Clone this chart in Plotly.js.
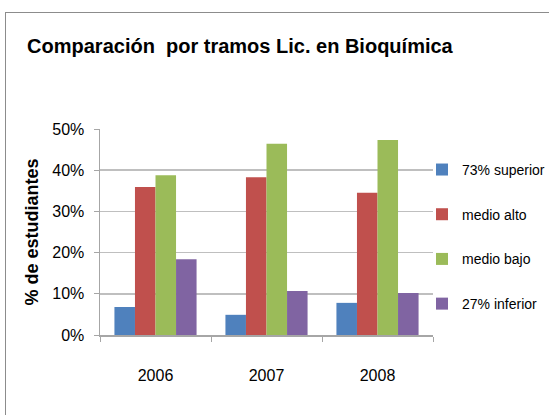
<!DOCTYPE html>
<html>
<head>
<meta charset="utf-8">
<script src="https://cdn.plot.ly/plotly-3.0.1.min.js"></script>
<style>
  html, body { margin: 0; padding: 0; background: #fff; }
  #chart { width: 549px; height: 415px; }
  #frame { position: absolute; left: 5px; top: 12px; width: 600px; height: 450px;
           border: 1px solid #8c8c8c; pointer-events: none; }
</style>
</head>
<body>
<div id="chart"></div>
<div id="frame"></div>
<script>
const years = ['2006', '2007', '2008'];
const superior = [6.8, 4.9, 7.8];
const medioAlto = [35.9, 38.3, 34.5];
const medioBajo = [38.8, 46.4, 47.3];
const inferior = [18.4, 10.7, 10.2];
const seriesNames = ['73% superior', 'medio alto', 'medio bajo', '27% inferior'];
const seriesColors = ['#4F81BD', '#C0504D', '#9BBB59', '#8064A2'];
const yTicks = [0, 10, 20, 30, 40, 50];
const yTickLabels = ['0%', '10%', '20%', '30%', '40%', '50%'];

const font = "'Liberation Sans', Arial, sans-serif";
const allSeries = [superior, medioAlto, medioBajo, inferior];
const traces = allSeries.map((vals, i) => ({
  type: 'bar',
  x: years,
  y: vals,
  name: seriesNames[i],
  legendgroup: 'g' + i,
  marker: { color: seriesColors[i] },
  hoverinfo: 'skip'
}));

const layout = {
  width: 549,
  height: 415,
  margin: { l: 100, r: 116, t: 129, b: 80, autoexpand: false },
  paper_bgcolor: '#ffffff',
  plot_bgcolor: '#ffffff',
  font: { family: font, color: '#000', size: 16 },
  title: {
    text: '<b>Comparación  por tramos Lic. en Bioquímica</b>',
    font: { family: font, size: 20, color: '#000' },
    x: 0.437, xanchor: 'center',
    y: 0.889, yanchor: 'middle'
  },
  barmode: 'group',
  bargap: 0.26,
  bargroupgap: 0,
  xaxis: {
    type: 'category',
    tickson: 'boundaries',
    ticks: 'outside',
    ticklen: 5,
    tickcolor: '#a6a6a6',
    showline: true,
    linecolor: '#a6a6a6',
    linewidth: 1.5,
    showgrid: false,
    ticklabelstandoff: 25,
    tickfont: { family: font, size: 16, color: '#000' },
    fixedrange: true
  },
  yaxis: {
    range: [0, 50],
    tickmode: 'array',
    tickvals: yTicks,
    ticktext: yTickLabels,
    ticks: 'outside',
    ticklen: 5,
    tickcolor: '#a6a6a6',
    showline: true,
    linecolor: '#a6a6a6',
    linewidth: 1.5,
    showgrid: true,
    gridcolor: '#bfbfbf',
    gridwidth: 1.5,
    zeroline: false,
    ticklabelstandoff: 6,
    tickfont: { family: font, size: 16, color: '#000' },
    title: {
      text: '<b>% de estudiantes</b>',
      font: { family: font, size: 18, color: '#000' },
      standoff: 9
    },
    fixedrange: true
  },
  showlegend: true,
  legend: {
    x: 0.967, xanchor: 'left',
    y: 0.879, yanchor: 'top',
    font: { family: font, size: 14, color: '#000' },
    tracegroupgap: 23.5,
    itemwidth: 30,
    bgcolor: 'rgba(0,0,0,0)'
  }
};

Plotly.newPlot('chart', traces, layout, { displayModeBar: false, staticPlot: true });
</script>
</body>
</html>
